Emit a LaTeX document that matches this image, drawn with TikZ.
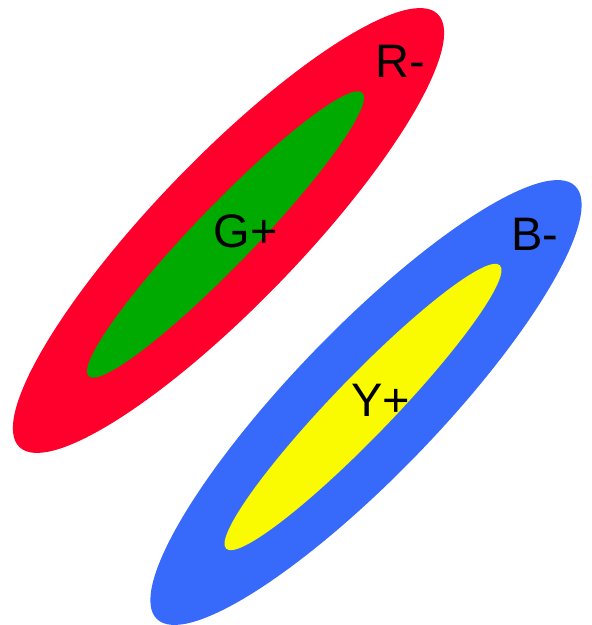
\documentclass[tikz,border=0pt]{standalone}
\usepackage{fontspec}
\setmainfont{Liberation Sans}
\usepackage{tikz}
\usetikzlibrary{shapes.geometric}
\definecolor{spotRed}{RGB}{255,0,45}
\definecolor{spotGreen}{RGB}{0,170,0}
\definecolor{spotBlue}{RGB}{55,105,250}
\definecolor{spotYellow}{RGB}{250,250,0}

\begin{document}
\begin{tikzpicture}[x=1pt,y=1pt,
  blob/.style={ellipse,inner sep=0pt,outer sep=0pt,rotate=46},
  outer/.style={blob,minimum width=602pt,minimum height=146pt},
  inner/.style={blob,minimum width=394pt,minimum height=59pt},
  tag/.style={inner sep=0pt,font=\fontsize{47}{47}\selectfont}
]
  \useasboundingbox (0,0) rectangle (592,625);
  \node[outer,fill=spotRed] (red) at (228.5,394.5) {};
  \node[inner,fill=spotGreen] (green) at (225.5,390.5) {};
  \node[outer,fill=spotBlue] (blue) at (366,222.5) {};
  \node[inner,fill=spotYellow] (yellow) at (363,218) {};
  \node[tag] (rlbl) at (400,564) {R-};
  \node[tag] (glbl) at (246,394) {G+};
  \node[tag] (blbl) at (535,391) {B-};
  \node[tag] (ylbl) at (381,225) {Y+};
\end{tikzpicture}
\end{document}
